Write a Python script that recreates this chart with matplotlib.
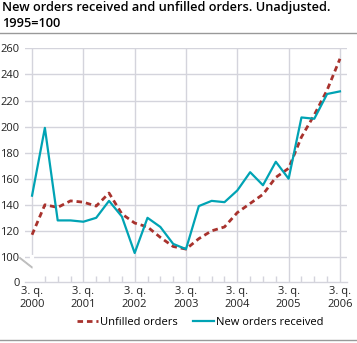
import numpy as np
import matplotlib
matplotlib.use("Agg")
import matplotlib.pyplot as plt
from matplotlib.ticker import FixedLocator

plt.rcParams["font.family"] = ["Open Sans", "DejaVu Sans"]

# Quarterly index values, 3. q. 2000 - 3. q. 2006 (1995=100)
quarters = list(range(25))
year_labels = ["3. q.\n2000", "3. q.\n2001", "3. q.\n2002", "3. q.\n2003",
               "3. q.\n2004", "3. q.\n2005", "3. q.\n2006"]
unfilled = [117, 140, 138, 143, 142, 139, 149, 133, 126, 123, 115, 108,
            106, 114, 120, 123, 134, 141, 148, 161, 168, 192, 209, 228, 252]
new_orders = [147, 199, 128, 128, 127, 130, 143, 131, 103, 130, 123, 110,
              106, 139, 143, 142, 151, 165, 155, 173, 160, 207, 206, 225, 227]

teal = "#00a3b4"
red = "#a8322d"
grid_col = "#d4d4dc"


# broken y axis: 0 sits just below 100
def fwd(y):
    y = np.asarray(y, dtype=float)
    return np.where(y < 100, 100 - (100 - y) * 0.192, y)


def inv(z):
    z = np.asarray(z, dtype=float)
    return np.where(z < 100, 100 - (100 - z) / 0.192, z)


fig = plt.figure(figsize=(3.57, 3.43), dpi=100)
ax = fig.add_axes([0.070, 0.178, 0.902, 0.681])

ax.plot(quarters, unfilled, color=red, lw=2.0, dashes=(2.0, 1.4),
        label="Unfilled orders", zorder=3)
ax.plot(quarters, new_orders, color=teal, lw=1.6,
        label="New orders received", zorder=4)

ax.set_yscale("function", functions=(fwd, inv))
ax.set_ylim(0, 260)
ax.set_xlim(-0.55, 24.55)

ax.yaxis.set_major_locator(FixedLocator([0, 100, 120, 140, 160, 180, 200, 220, 240, 260]))
ax.yaxis.set_minor_locator(FixedLocator([]))
ax.set_yticklabels(["0", "100", "120", "140", "160", "180", "200", "220", "240", "260"])
ax.set_xticks(quarters[::4])
ax.set_xticklabels(year_labels)
ax.set_xticks(quarters, minor=True)

ax.tick_params(axis="y", length=0, pad=4, labelsize=8, labelcolor="#222222")
ax.tick_params(axis="x", which="major", length=0, pad=3, labelsize=8, labelcolor="#222222")
ax.tick_params(axis="x", which="minor", direction="in", length=4, color=grid_col, width=1)

for v in [100, 120, 140, 160, 180, 200, 220, 240, 260]:
    ax.axhline(v, color=grid_col, lw=1, zorder=1)
for q in quarters[::4]:
    ax.axvline(q, color=grid_col, lw=1, zorder=1)

for s in ["top", "right", "left"]:
    ax.spines[s].set_visible(False)
ax.spines["bottom"].set_color(grid_col)
ax.spines["bottom"].set_linewidth(1)

# axis break marks
ax.plot([0, 0], [2, 98], color="white", lw=3, zorder=2)
for dy in (0, 4):
    ax.plot([-0.95, 0.0], [98 - dy, 60 - dy], color="#bbbbbb", lw=0.8,
            clip_on=False, zorder=5)

fig.text(0.006, 0.996, "New orders received and unfilled orders. Unadjusted.\n1995=100",
         fontsize=9.2, fontweight="semibold", va="top", ha="left", linespacing=1.3)
fig.add_artist(plt.Line2D([0, 1], [0.904, 0.904], color="#999999", lw=1))
fig.add_artist(plt.Line2D([0, 1], [0.009, 0.009], color="#999999", lw=1))

fig.legend(loc="center", bbox_to_anchor=(0.56, 0.061), ncol=2, frameon=False,
           fontsize=8, handlelength=1.9, columnspacing=1.4, handletextpad=0.15)

fig.savefig("out.png", dpi=100)
